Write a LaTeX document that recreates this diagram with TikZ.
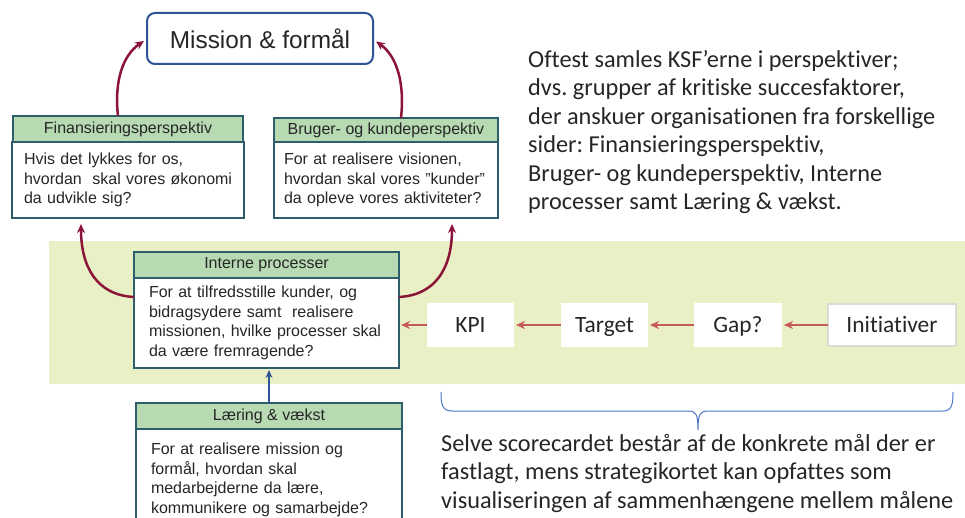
\documentclass[tikz,border=0pt]{standalone}
\usepackage{fontspec}
\setmainfont{Liberation Sans}
\newfontfamily\calibri[Ligatures=NoCommon]{Carlito}
\usetikzlibrary{arrows.meta,calc,positioning}
\definecolor{kantBlaa}{HTML}{2F5597}
\definecolor{kantTeal}{HTML}{2E5E6B}
\definecolor{hovedGroen}{HTML}{B7DAB3}
\definecolor{baandGroen}{HTML}{EAF0C6}
\definecolor{pilBordeaux}{HTML}{8A1538}
\definecolor{pilRoed}{HTML}{C65A59}
\definecolor{braceBlaa}{HTML}{4A76C6}
\definecolor{tekstGraa}{HTML}{262626}
\definecolor{rammeGraa}{HTML}{DADBD2}
\frenchspacing
\hyphenpenalty=10000

\begin{document}
\begin{tikzpicture}[x=1pt,y=-1pt,
  hoved/.style={draw=kantTeal,line width=2pt,fill=hovedGroen,inner sep=0pt,outer sep=0pt,
    text=tekstGraa,font=\fontsize{16}{19}\selectfont},
  boks/.style={draw=kantTeal,line width=2pt,fill=white,inner ysep=0pt,outer sep=0pt,
    align=left,text=tekstGraa,font=\fontsize{16}{19.5}\selectfont},
  kpiboks/.style={fill=white,minimum width=87pt,minimum height=44pt,inner sep=0pt,outer sep=0pt,
    text height=18pt,text depth=3pt,text=tekstGraa,font=\calibri\fontsize{23.4}{28}\selectfont},
  bue/.style={pilBordeaux,line width=2.5pt,-{Stealth[length=9pt,width=8pt]}},
  kaede/.style={pilRoed,line width=2.5pt,-{Stealth[length=9pt,width=8pt]},shorten >=2pt},
  notat/.style={anchor=north west,inner sep=0pt,align=left,text=tekstGraa,
    font=\calibri\fontsize{24.3}{28.5}\selectfont}]
\useasboundingbox (0,0) rectangle (965,518);
\clip (0,0) rectangle (965,518);
\fill[white] (0,0) rectangle (965,518);
% baand bag de interne processer
\fill[baandGroen] (49,241) rectangle (965,384);

% perspektiverne
\node[draw=kantBlaa,line width=2pt,rounded corners=8pt,fill=white,minimum width=226pt,minimum height=51pt,
  font=\fontsize{24.4}{29}\selectfont,text=tekstGraa] (mission) at (260,38.5) {Mission \& formål};

\node[hoved,minimum width=230pt,minimum height=26pt] (finHoved) at (128,129) {Finansieringsperspektiv};
\node[boks,below=0pt of finHoved,text width=208pt,inner xsep=12pt,minimum height=76pt] (finTekst)
  {Hvis det lykkes for os,\\hvordan~~skal~vores~økonomi\\da udvikle sig?};

\node[hoved,minimum width=224pt,minimum height=24pt] (brugerHoved) at (386,130) {Bruger- og kundeperspektiv};
\node[boks,below=0pt of brugerHoved,text width=204pt,inner xsep=10pt,minimum height=76pt] (brugerTekst)
  {For at realisere visionen,\\hvordan skal vores ”kunder”\\da opleve vores aktiviteter?};

\node[hoved,minimum width=265pt,minimum height=26pt] (interneHoved) at (266.5,265) {Interne processer};
\node[boks,below=0pt of interneHoved,text width=235pt,inner xsep=15pt,minimum height=90pt] (interneTekst)
  {For at tilfredsstille kunder, og\\bidragsydere samt\ \ realisere\\missionen, hvilke processer skal\\da være fremragende?};

\node[hoved,minimum width=266pt,minimum height=26pt] (laeringHoved) at (269,416) {Læring \& vækst};
\node[boks,below=0pt of laeringHoved,text width=236pt,inner xsep=15pt,minimum height=102pt] (laeringTekst)
  {For at realisere mission og\\formål, hvordan skal\\medarbejderne da lære,\\kommunikere og samarbejde?};

% scorecard-kaeden
\node[kpiboks,draw=rammeGraa,line width=2pt,minimum width=128pt,minimum height=42pt] (initiativer) at (892,325) {Initiativer};
\node[kpiboks,minimum width=88pt,left=46pt of initiativer] (gap) {Gap?};
\node[kpiboks,left=46pt of gap] (target) {Target};
\node[kpiboks,left=47pt of target] (kpi) {KPI};

\draw[kaede] (initiativer) -- (gap);
\draw[kaede] (gap) -- (target);
\draw[kaede] (target) -- (kpi);
\draw[kaede] (kpi.west) -- (kpi.west -| interneTekst.east);

% buer op mod mission
\draw[bue] ($(finHoved.north)+(-10,0)$) .. controls +(-4,-35) and +(-21,14) .. ($(mission.west)+(-2,2.5)$);
\draw[bue] ($(brugerHoved.north)+(15,0)$) .. controls +(4,-37) and +(20,14) .. ($(mission.east)+(2,3)$);
\draw[bue] ($(interneTekst.north west)+(0,19)$) .. controls +(-38,-2) and +(0,42) .. ($(finTekst.south)+(-47,6)$);
\draw[bue] ($(interneTekst.north east)+(0,19)$) .. controls +(38,-2) and +(0,42) .. ($(brugerTekst.south)+(66,6)$);
\draw[kantBlaa,line width=2pt,-{Stealth[length=8pt,width=7pt]},shorten >=2pt]
  (laeringHoved.north) -- (laeringHoved.north |- interneTekst.south);

% klamme under kaeden
\draw[braceBlaa,line width=1pt] (441,392) .. controls (441,404) and (442,411) .. (452,411) -- (688,411)
  .. controls (696,411) and (698,414) .. (698,430) .. controls (698,414) and (700,411) .. (708,411)
  -- (943,411) .. controls (952,411) and (953,404) .. (953,392);

\node[notat] (perspektivTekst) at (528,50) {Oftest samles KSF’erne i perspektiver;\\dvs. grupper af kritiske succesfaktorer,\\der anskuer organisationen fra forskellige\\sider: Finansieringsperspektiv,\\Bruger- og kundeperspektiv, Interne\\processer samt Læring \& vækst.};
\node[notat] (scorecardTekst) at (441,434) {Selve scorecardet består af de konkrete mål der er\\fastlagt, mens strategikortet kan opfattes som\\visualiseringen af sammenhængene mellem målene};
\end{tikzpicture}
\end{document}
